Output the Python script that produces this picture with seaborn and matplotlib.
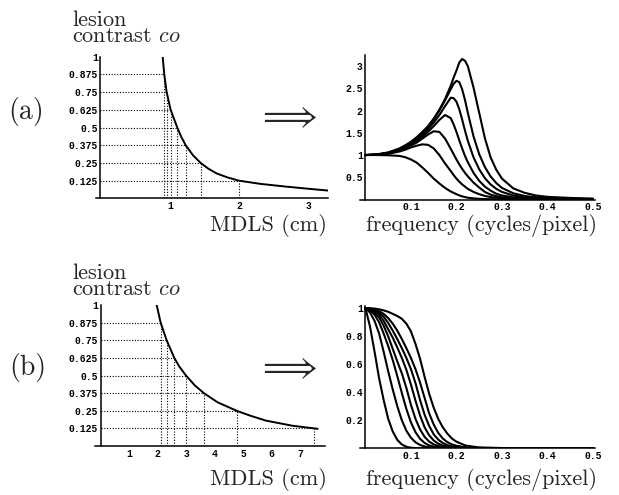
import numpy as np
import pandas as pd
import seaborn as sns
import matplotlib.pyplot as plt

# ---------------- values ----------------
CO_LEVELS = [0.875, 0.75, 0.625, 0.5, 0.375, 0.25, 0.125]
CO_TICKS = [0.125, 0.25, 0.375, 0.5, 0.625, 0.75, 0.875, 1.0]
CO_TICK_LABELS = ["0.125", "0.25", "0.375", "0.5", "0.625", "0.75", "0.875", "1"]

# (a) lesion contrast vs MDLS
MDLS_A = [0.895, 0.918, 0.952, 1.01, 1.105, 1.16, 1.226, 1.33, 1.441, 1.55,
          1.67, 1.83, 1.988, 2.3, 2.68, 3.0, 3.27]
CO_A = [1.0, 0.875, 0.75, 0.625, 0.5, 0.437, 0.375, 0.305, 0.25, 0.21,
        0.176, 0.147, 0.125, 0.102, 0.082, 0.067, 0.055]
MDLS_AT_LEVELS_A = [0.918, 0.952, 1.01, 1.105, 1.226, 1.441, 1.988]

# (b) lesion contrast vs MDLS
MDLS_B = [1.96, 2.10, 2.31, 2.58, 2.75, 2.99, 3.3, 3.62, 4.1, 4.77, 5.25, 5.8,
          6.75, 7.5, 7.62]
CO_B = [1.0, 0.875, 0.75, 0.625, 0.565, 0.5, 0.43, 0.375, 0.31, 0.25, 0.215,
        0.18, 0.143, 0.125, 0.122]
MDLS_AT_LEVELS_B = [2.10, 2.31, 2.58, 2.99, 3.62, 4.77, 7.5]

# (a) filter responses
FREQ_A = [0, 0.025, 0.05, 0.075, 0.0875, 0.1, 0.1125, 0.125, 0.1375, 0.15,
          0.1625, 0.175, 0.1875, 0.19375, 0.2, 0.20625, 0.2125, 0.21875, 0.225,
          0.2375, 0.25, 0.2625, 0.275, 0.2875, 0.3, 0.325, 0.35, 0.375, 0.4,
          0.45, 0.5]
GAIN_A1 = [1.0, 1.0, 0.995, 0.98, 0.95, 0.90, 0.83, 0.72, 0.60, 0.47, 0.36, 0.26,
           0.18, 0.15, 0.12, 0.093, 0.07, 0.055, 0.04, 0.025, 0.015, 0.01,
           0.007, 0.005, 0.004, 0.002, 0.001, 0, 0, 0, 0]
GAIN_A2 = [1.0, 1.005, 1.03, 1.08, 1.12, 1.17, 1.21, 1.24, 1.23, 1.15, 1.0, 0.81,
           0.64, 0.55, 0.47, 0.40, 0.34, 0.29, 0.24, 0.17, 0.12, 0.08, 0.055,
           0.04, 0.03, 0.018, 0.012, 0.008, 0.006, 0.003, 0.002]
GAIN_A3 = [1.0, 1.005, 1.035, 1.1, 1.15, 1.21, 1.28, 1.37, 1.46, 1.535, 1.52, 1.37,
           1.14, 1.02, 0.90, 0.79, 0.69, 0.60, 0.52, 0.38, 0.27, 0.17, 0.11,
           0.075, 0.05, 0.03, 0.02, 0.014, 0.01, 0.006, 0.004]
GAIN_A4 = [1.0, 1.008, 1.04, 1.11, 1.16, 1.23, 1.31, 1.41, 1.52, 1.65, 1.79, 1.90,
           1.83, 1.69, 1.52, 1.33, 1.15, 0.98, 0.84, 0.60, 0.42, 0.29, 0.20,
           0.13, 0.09, 0.05, 0.03, 0.02, 0.014, 0.008, 0.005]
GAIN_A5 = [1.0, 1.01, 1.045, 1.12, 1.18, 1.25, 1.34, 1.45, 1.58, 1.73, 1.9, 2.1,
           2.29, 2.28, 2.2, 2.03, 1.8, 1.55, 1.32, 0.95, 0.68, 0.48, 0.34, 0.24,
           0.17, 0.09, 0.05, 0.035, 0.025, 0.014, 0.008]
GAIN_A6 = [1.0, 1.012, 1.05, 1.13, 1.19, 1.27, 1.37, 1.49, 1.63, 1.8, 2.0, 2.23,
           2.48, 2.6, 2.67, 2.64, 2.48, 2.24, 1.95, 1.42, 1.02, 0.73, 0.52, 0.37,
           0.26, 0.14, 0.08, 0.05, 0.035, 0.02, 0.012]
GAIN_A7 = [1.0, 1.015, 1.06, 1.15, 1.22, 1.3, 1.4, 1.52, 1.65, 1.82, 2.02, 2.26,
           2.56, 2.74, 2.9, 3.08, 3.16, 3.12, 3.0, 2.52, 1.95, 1.38, 0.95, 0.67,
           0.47, 0.25, 0.15, 0.09, 0.06, 0.035, 0.02]

# (b) filter responses
FREQ_B = [0, 0.01, 0.02, 0.03, 0.04, 0.05, 0.06, 0.07, 0.08, 0.09, 0.1, 0.11,
          0.12, 0.13, 0.14, 0.15, 0.16, 0.17, 0.18, 0.19, 0.2, 0.22, 0.25, 0.3,
          0.35, 0.4, 0.45, 0.5]
GAIN_B1 = [1.0, 0.87, 0.69, 0.50, 0.345, 0.21, 0.12, 0.06, 0.027, 0.011, 0.004,
           0.002, 0.001, 0, 0, 0, 0, 0, 0, 0, 0, 0, 0, 0, 0, 0, 0, 0]
GAIN_B2 = [1.0, 0.97, 0.91, 0.82, 0.69, 0.55, 0.42, 0.30, 0.20, 0.125, 0.075,
           0.043, 0.024, 0.013, 0.007, 0.004, 0.002, 0.001, 0, 0, 0, 0, 0, 0,
           0, 0, 0, 0]
GAIN_B3 = [1.0, 0.985, 0.955, 0.9, 0.82, 0.73, 0.63, 0.515, 0.395, 0.28, 0.185,
           0.115, 0.068, 0.038, 0.021, 0.012, 0.007, 0.004, 0.002, 0.001, 0, 0,
           0, 0, 0, 0, 0, 0]
GAIN_B4 = [1.0, 0.992, 0.97, 0.935, 0.875, 0.8, 0.71, 0.62, 0.535, 0.43, 0.31,
           0.21, 0.135, 0.082, 0.048, 0.028, 0.016, 0.009, 0.005, 0.003, 0.002,
           0.001, 0, 0, 0, 0, 0, 0]
GAIN_B5 = [1.0, 0.995, 0.98, 0.955, 0.91, 0.85, 0.79, 0.72, 0.645, 0.56, 0.455,
           0.34, 0.235, 0.15, 0.093, 0.056, 0.033, 0.02, 0.012, 0.007, 0.004,
           0.002, 0.001, 0, 0, 0, 0, 0]
GAIN_B6 = [1.0, 0.997, 0.988, 0.97, 0.94, 0.895, 0.84, 0.78, 0.715, 0.645, 0.565,
           0.465, 0.345, 0.24, 0.16, 0.1, 0.062, 0.038, 0.023, 0.014, 0.009,
           0.004, 0.002, 0.001, 0, 0, 0, 0]
GAIN_B7 = [1.0, 0.998, 0.993, 0.98, 0.96, 0.93, 0.89, 0.84, 0.78, 0.715, 0.645,
           0.565, 0.47, 0.36, 0.25, 0.17, 0.11, 0.07, 0.044, 0.028, 0.018,
           0.008, 0.003, 0.001, 0, 0, 0, 0]
GAIN_B8 = [1.0, 1.0, 0.998, 0.993, 0.985, 0.975, 0.96, 0.945, 0.925, 0.89, 0.835,
           0.745, 0.64, 0.51, 0.39, 0.29, 0.21, 0.15, 0.105, 0.07, 0.047, 0.02,
           0.006, 0.002, 0.001, 0, 0, 0]

FREQ_TICKS = [0.1, 0.2, 0.3, 0.4, 0.5]
FREQ_TICK_LABELS = ["0.1", "0.2", "0.3", "0.4", "0.5"]
GAIN_A_TICKS = [0.5, 1, 1.5, 2, 2.5, 3]
GAIN_A_TICK_LABELS = ["0.5", "1", "1.5", "2", "2.5", "3"]
GAIN_B_TICKS = [0.2, 0.4, 0.6, 0.8, 1.0]
GAIN_B_TICK_LABELS = ["0.2", "0.4", "0.6", "0.8", "1"]


def long_frame(freq, curves):
    rows = []
    for i, g in enumerate(curves):
        rows.append(pd.DataFrame({"freq": freq, "gain": g, "curve": i}))
    return pd.concat(rows, ignore_index=True)


sns.set_theme(style="white")
plt.rcParams["font.family"] = ["cmr10", "DejaVu Serif"]
plt.rcParams["mathtext.fontset"] = "cm"
plt.rcParams["axes.formatter.use_mathtext"] = True

TICK_FONT = "Liberation Mono"
W, H = 619, 495


def px_rect(left, top, right, bottom):
    return [left / W, 1 - bottom / H, (right - left) / W, (bottom - top) / H]


def mathematica_axes(ax):
    for s in ["top", "right"]:
        ax.spines[s].set_visible(False)
    for s in ["left", "bottom"]:
        ax.spines[s].set_position(("data", 0))
        ax.spines[s].set_color("black")
        ax.spines[s].set_linewidth(1.1)
    ax.tick_params(which="major", direction="in", length=3, width=0.7,
                   pad=2, labelsize=7, colors="black")
    ax.tick_params(which="minor", direction="in", length=1.5, width=0.5)
    ax.set_xlabel("")
    ax.set_ylabel("")
    ax.grid(False)
    ax.patch.set_alpha(0)
    for lab in ax.get_xticklabels() + ax.get_yticklabels():
        lab.set_fontfamily(TICK_FONT)
        lab.set_fontweight("bold")


fig = plt.figure(figsize=(W / 100, H / 100), dpi=100)

dot_style = dict(color="black", lw=0.8, linestyle=(0, (1, 1.5)))

# ---- (a) left: contrast vs MDLS ----
ax1 = fig.add_axes(px_rect(95.6, 56.7, 327.7, 198.3))
for lev, m in zip(CO_LEVELS, MDLS_AT_LEVELS_A):
    ax1.hlines(lev, 0, m, **dot_style)
    ax1.vlines(m, 0, lev, **dot_style)
sns.lineplot(x=MDLS_A, y=CO_A, color="black", lw=1.4, ax=ax1, sort=False)
ax1.set_xlim(-0.07, 3.27)
ax1.set_ylim(0, 1.0)
ax1.set_xticks([1, 2, 3])
ax1.set_xticklabels(["1", "2", "3"])
ax1.set_yticks(CO_TICKS)
ax1.set_yticklabels(CO_TICK_LABELS)
mathematica_axes(ax1)

# ---- (b) left ----
ax3 = fig.add_axes(px_rect(95.2, 305, 325.1, 446))
for lev, m in zip(CO_LEVELS, MDLS_AT_LEVELS_B):
    ax3.hlines(lev, 0, m, **dot_style)
    ax3.vlines(m, 0, lev, **dot_style)
sns.lineplot(x=MDLS_B, y=CO_B, color="black", lw=1.4, ax=ax3, sort=False)
ax3.set_xlim(-0.2, 7.88)
ax3.set_ylim(0, 1.0)
ax3.set_xticks([1, 2, 3, 4, 5, 6, 7])
ax3.set_xticklabels([str(v) for v in range(1, 8)])
ax3.set_yticks(CO_TICKS)
ax3.set_yticklabels(CO_TICK_LABELS)
mathematica_axes(ax3)

# ---- (a) right: frequency responses ----
ax2 = fig.add_axes(px_rect(360.0, 55.0, 595.2, 199.5))
df_a = long_frame(FREQ_A, [GAIN_A1, GAIN_A2, GAIN_A3, GAIN_A4, GAIN_A5,
                           GAIN_A6, GAIN_A7])
sns.lineplot(data=df_a, x="freq", y="gain", units="curve", estimator=None,
             color="black", lw=1.5, ax=ax2, sort=False)
ax2.set_xlim(-0.012, 0.505)
ax2.set_ylim(0, 3.25)
ax2.set_xticks(FREQ_TICKS)
ax2.set_xticklabels(FREQ_TICK_LABELS)
ax2.set_xticks(np.arange(0.02, 0.5, 0.02), minor=True)
ax2.set_yticks(GAIN_A_TICKS)
ax2.set_yticklabels(GAIN_A_TICK_LABELS)
ax2.set_yticks(np.arange(0.1, 3.2, 0.1), minor=True)
mathematica_axes(ax2)

# ---- (b) right ----
ax4 = fig.add_axes(px_rect(360.0, 305.5, 595.2, 448.3))
df_b = long_frame(FREQ_B, [GAIN_B1, GAIN_B2, GAIN_B3, GAIN_B4, GAIN_B5,
                           GAIN_B6, GAIN_B7, GAIN_B8])
sns.lineplot(data=df_b, x="freq", y="gain", units="curve", estimator=None,
             color="black", lw=1.5, ax=ax4, sort=False)
ax4.set_xlim(-0.012, 0.505)
ax4.set_ylim(0, 1.02)
ax4.set_xticks(FREQ_TICKS)
ax4.set_xticklabels(FREQ_TICK_LABELS)
ax4.set_xticks(np.arange(0.02, 0.5, 0.02), minor=True)
ax4.set_yticks(GAIN_B_TICKS)
ax4.set_yticklabels(GAIN_B_TICK_LABELS)
ax4.set_yticks(np.arange(0.05, 1.0, 0.05), minor=True)
mathematica_axes(ax4)


def ftext(x, y, s, **kw):
    fig.text(x / W, 1 - y / H, s, **kw)


# panel texts: (baseline of "contrast co", x label baseline, arrow centre)
for contrast_y, xlabel_y, arrow_y in [(42, 231, 117), (295, 485, 368)]:
    ftext(72, contrast_y, "lesion\n" + r"contrast $co$", fontsize=16,
          va="baseline", ha="left", linespacing=0.8)
    ftext(327, xlabel_y, "MDLS (cm)", fontsize=16, va="baseline", ha="right")
    ftext(366, xlabel_y, "frequency (cycles/pixel)", fontsize=16,
          va="baseline", ha="left")
    ftext(286, arrow_y, r"$\Longrightarrow$", fontsize=25, va="center",
          ha="center")

ftext(26.5, 112, "(a)", fontsize=20, va="center", ha="center")
ftext(28, 368, "(b)", fontsize=20, va="center", ha="center")

fig.savefig("out.png", dpi=100)
